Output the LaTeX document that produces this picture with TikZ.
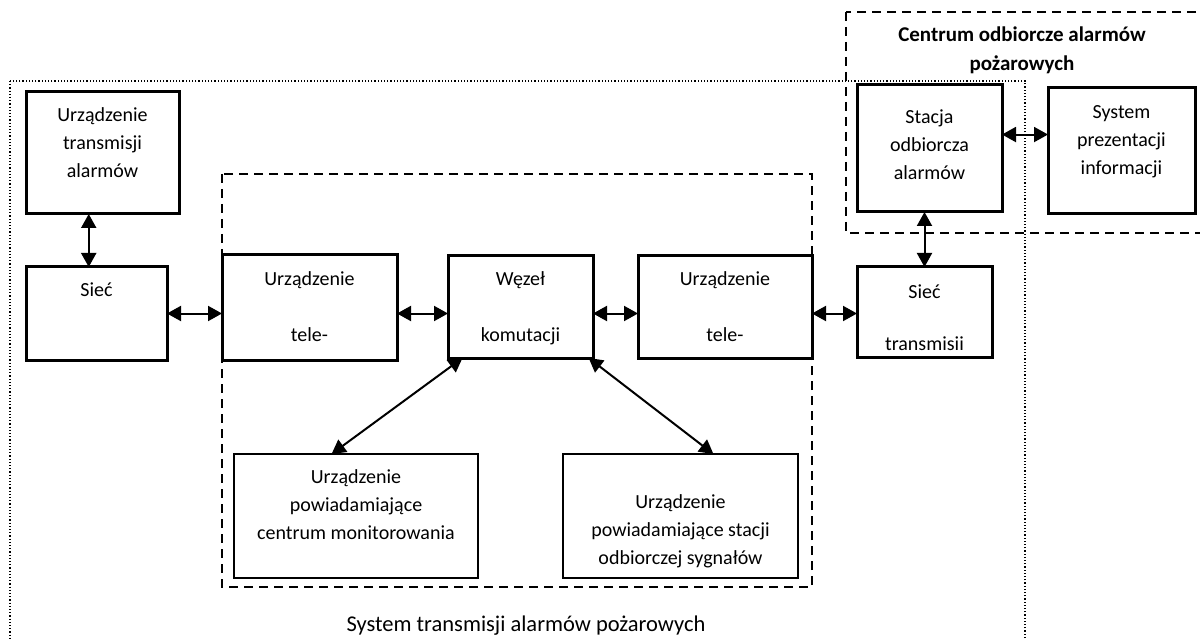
\documentclass[tikz,border=0pt]{standalone}
\usepackage{fontspec}
\setmainfont{Carlito}
\usepackage{tikz}
\usetikzlibrary{calc,positioning,arrows.meta}

\newcommand{\boxfont}{\fontsize{20}{28}\selectfont}

\tikzset{
	box/.style={draw, line width=3pt, outer sep=0pt, inner sep=0pt, anchor=north west},
	thinbox/.style={draw, line width=1.5pt, outer sep=0pt, inner sep=0pt, anchor=north west},
	txt/.style={align=center, inner sep=0pt, font=\boxfont},
	link/.style={line width=2pt, {Triangle[length=14pt,width=15pt]}-{Triangle[length=14pt,width=15pt]}},
	frame/.style={line width=1.5pt, dash pattern=on 9pt off 6pt},
	outer/.style={line width=1.2pt, dash pattern=on 1.2pt off 2pt},
}

\begin{document}
\begin{tikzpicture}[x=1pt, y=-1pt]

	\useasboundingbox (0,0) rectangle (1200,639);

% frames %{{{2

	\draw[outer] (10,81) rectangle (1025,660);
	\draw[frame] (222,174) rectangle (812,587);
	\draw[frame] (846,12) rectangle (1220,233);

	\node[txt, font=\fontsize{21}{29}\selectfont\bfseries, anchor=north] (title) at (1022,27)
		{Centrum odbiorcze alarmów\\pożarowych};

	\node[txt, font=\fontsize{22.5}{28}\selectfont] (caption) at (526,626) {System transmisji alarmów pożarowych};

% boxes %{{{2

	\node[box, minimum width=153, minimum height=122] (uta)    at (26,92)   {};
	\node[box, minimum width=141, minimum height=93]  (siecL)  at (26,267)  {};
	\node[box, minimum width=175, minimum height=105] (teleL)  at (222,255) {};
	\node[box, minimum width=145, minimum height=102] (wezel)  at (448,256) {};
	\node[box, minimum width=174, minimum height=102] (teleR)  at (638,256) {};
	\node[box, minimum width=135, minimum height=90]  (siecR)  at (857,267) {};
	\node[box, minimum width=145, minimum height=127] (stacja) at (857,85)  {};
	\node[box, minimum width=147, minimum height=126] (syst)   at (1048,88) {};

	% notification devices
	\node[thinbox, minimum width=244, minimum height=124] (cm) at (234,454) {};
	\node[thinbox, minimum width=235, minimum height=124] (ss) at (563,454) {};

% box texts %{{{2

	\node[txt, below=15.5pt of uta.north]    (utaT)    {Urządzenie\\transmisji\\alarmów};
	\node[txt, below=15.5pt of siecL.north]  (siecLT)  {Sieć};
	\node[txt, below=16.5pt of teleL.north]  (teleLT)  {Urządzenie\\[28pt]tele-};
	\node[txt, below=15.5pt of wezel.north]  (wezelT)  {Węzeł\\[28pt]komutacji};
	\node[txt, below=15.5pt of teleR.north]  (teleRT)  {Urządzenie\\[28pt]tele-};
	\node[txt, below=17.5pt of siecR.north]  (siecRT)  {Sieć\\[24pt]transmisii};
	\node[txt, below=24.5pt of stacja.north] (stacjaT) {Stacja\\odbiorcza\\alarmów};
	\node[txt, below=17.5pt of syst.north]   (systT)   {System\\prezentacji\\informacji};
	\node[txt, below=15.5pt of cm.north]     (cmT)     {Urządzenie\\powiadamiające\\centrum monitorowania};
	\node[txt, below=40.5pt of ss.north]     (ssT)     {Urządzenie\\powiadamiające stacji\\odbiorczej sygnałów};

% connectors %{{{2

	\coordinate (utaS) at ($(uta.south west)!0.41!(uta.south east)$);
	\draw[link] (utaS) -- (utaS |- siecL.north);

	\draw[link] (siecL.east) -- (siecL.east -| teleL.west);
	\draw[link] (siecL.east -| teleL.east) -- (siecL.east -| wezel.west);
	\draw[link] (siecL.east -| wezel.east) -- (siecL.east -| teleR.west);
	\draw[link] (siecL.east -| teleR.east) -- (siecL.east -| siecR.west);

	% receiving centre
	\coordinate (stacjaE) at ($(stacja.north east)!0.39!(stacja.south east)$);
	\draw[link] (stacjaE) -- (stacjaE -| syst.west);
	\draw[link] (stacja.south -| siecR.north) -- (siecR.north);

	% diagonals to the notification devices
	\draw[link] ($(wezel.south west)!0.1!(wezel.south east)$) -- ($(cm.north west)!0.4!(cm.north east)$);
	\draw[link] ($(wezel.south west)!0.97!(wezel.south east)$) -- ($(ss.north west)!0.64!(ss.north east)$);

% closing %{{{2

\end{tikzpicture}
\end{document}
